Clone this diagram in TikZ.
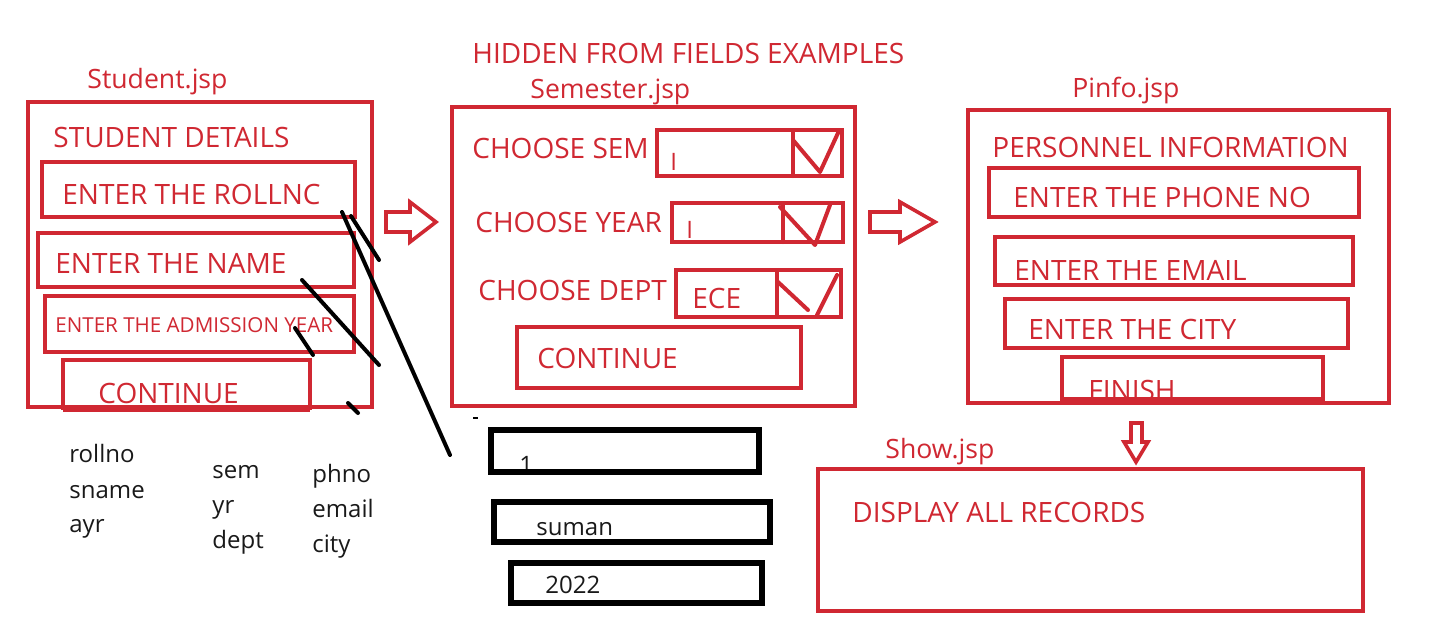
\documentclass[tikz,border=0pt]{standalone}
\usepackage{fontspec}
\setmainfont{Open Sans}
\definecolor{sk}{RGB}{208,40,50}
\definecolor{ink}{RGB}{25,25,25}
\newcommand\boxat[6][rb]{\node[#1, minimum width={(#5-#3)*0.5pt}, minimum height={(#6-#4)*0.5pt}, anchor=north west] (#2) at (#3,#4) {};}
\begin{document}
\begin{tikzpicture}[x=0.5pt,y=-0.5pt,
  rb/.style={draw=sk, line width=2.2pt, inner sep=0pt, outer sep=0pt},
  kb/.style={draw=black, line width=2.6pt, inner sep=0pt, outer sep=0pt},
  rt/.style={text=sk, font=\fontsize{14pt}{16pt}\selectfont, anchor=base west, inner sep=0pt},
  lt/.style={rt, font=\fontsize{13.3pt}{16pt}\selectfont},
  st/.style={rt, font=\fontsize{10.3pt}{12pt}\selectfont},
  kt/.style={text=ink, font=\fontsize{12pt}{14pt}\selectfont, anchor=base west, inner sep=0pt},
  stroke/.style={draw=black, line width=2pt, line cap=round},
  redline/.style={draw=sk, line width=2pt, line cap=round, line join=round},
  bar/.style={draw=sk, line width=3.5pt},
  blockarrow/.style={draw=sk, line width=1.8pt, line join=miter, fill=white}]
\useasboundingbox[fill=white] (0,0) rectangle (1443,633);

% ---------------- Student.jsp ----------------
\node[lt] (lstudent) at (87,88) {Student.jsp};
\boxat{student}{28}{102}{372}{407}
\node[rt] (tdetails) at (53,147) {STUDENT DETAILS};
\node[rt] (troll) at (62,204) {ENTER THE ROLLNC};
\boxat{roll}{42}{162}{355}{217}
\node[rt] (tname) at (55,273) {ENTER THE NAME};
\boxat{name}{38}{233}{354}{287}
\node[st] (tadm) at (55,332) {ENTER THE ADMISSION YEAR};
\boxat{adm}{45}{296}{354}{352}
\node[rt] (tcont1) at (98,403) {CONTINUE};
\boxat{cont1}{63}{360}{310}{408}
\draw[bar] (cont1.south west) -- (cont1.south east);

% ---------------- Semester.jsp ----------------
\node[rt] (thidden) at (472,63) {HIDDEN FROM FIELDS EXAMPLES};
\node[lt] (lsem) at (530,98) {Semester.jsp};
\boxat{semester}{452}{107}{855}{406}
\node[rt] (tchsem) at (472,158) {CHOOSE SEM};
\node[rt, font=\fontsize{12pt}{14pt}\selectfont] (vsem) at (670,170) {I};
\boxat{ddsem}{657}{130}{842}{176}
\draw[redline] (793,130) -- (793,176);
\draw[redline] (793,140) -- (820,172) -- (838,133);
\node[rt] (tchyear) at (475,232) {CHOOSE YEAR};
\node[rt, font=\fontsize{12pt}{14pt}\selectfont] (vyear) at (686,238) {I};
\boxat{ddyear}{672}{203}{843}{242}
\draw[redline] (783,203) -- (783,242);
\draw[redline] (780,207) -- (815,245) -- (830,205);
\node[rt] (tchdept) at (478,300) {CHOOSE DEPT};
\node[rt] (vdept) at (692,308) {ECE};
\boxat{dddept}{676}{270}{841}{317}
\draw[redline] (777,270) -- (777,317);
\draw[redline] (778,282) -- (808,310);
\draw[redline] (817,315) -- (837,275);
\node[rt] (tcont2) at (537,368) {CONTINUE};
\boxat{cont2}{517}{327}{801}{388}

% ---------------- Pinfo.jsp ----------------
\node[lt] (lpinfo) at (1072,97) {Pinfo.jsp};
\boxat{pinfo}{968}{110}{1389}{403}
\node[rt] (tpers) at (992,157) {PERSONNEL INFORMATION};
\node[rt] (tphone) at (1013,207) {ENTER THE PHONE NO};
\boxat{phone}{989}{168}{1359}{217}
\node[rt] (temail) at (1014,280) {ENTER THE EMAIL};
\boxat{email}{995}{237}{1353}{285}
\node[rt] (tcity) at (1028,339) {ENTER THE CITY};
\boxat{city}{1005}{299}{1348}{348}
\node[rt] (tfinish) at (1088,400) {FINISH};
\boxat{finish}{1062}{357}{1323}{400}
\draw[bar] (finish.south west) -- (finish.south east);

% ---------------- Show.jsp ----------------
\node[lt] (lshow) at (885,458) {Show.jsp};
\boxat{show}{818}{469}{1363}{611}
\node[rt] (tdisplay) at (852,522) {DISPLAY ALL RECORDS};

% ---------------- block arrows ----------------
\draw[blockarrow] (386,212) -- (410,212) -- (410,202) -- (436,222) -- (410,242) -- (410,232) -- (386,232) -- cycle;
\draw[blockarrow] (870,212) -- (900,212) -- (900,202) -- (935,222) -- (900,242) -- (900,232) -- (870,232) -- cycle;
\draw[blockarrow] (1131,423) -- (1142,423) -- (1142,442) -- (1148,442) -- (1136,462) -- (1124,442) -- (1131,442) -- cycle;

% ---------------- hidden field values ----------------
\node[kt] (v1) at (519,473) {1};
\boxat[kb]{hroll}{491}{430}{759}{472}
\node[kt] (v2) at (536,535) {suman};
\boxat[kb]{hname}{494}{502}{770}{542}
\node[kt] (v3) at (545,593) {2022};
\boxat[kb]{hyear}{511}{563}{762}{603}

% ---------------- black strokes ----------------
\coordinate (s1a) at (342,212); \coordinate (s1b) at (450,455);
\coordinate (s2a) at (351,216); \coordinate (s2b) at (379,260);
\coordinate (s3a) at (302,280); \coordinate (s3b) at (379,365);
\coordinate (s4a) at (295,328); \coordinate (s4b) at (313,355);
\coordinate (s5a) at (348,403); \coordinate (s5b) at (358,413);
\draw[stroke] (s1a) -- (s1b);
\draw[stroke] (s2a) -- (s2b);
\draw[stroke] (s3a) -- (s3b);
\draw[stroke] (s4a) -- (s4b);
\draw[stroke] (s5a) -- (s5b);
\coordinate (d1) at (473,418); \coordinate (d2) at (478,418);
\draw[draw=black, line width=0.6pt] (d1) -- (d2);

% ---------------- parameter names ----------------
\node[kt] (prollno) at (69,462) {rollno};
\node[kt] (psname) at (69,498) {sname};
\node[kt] (payr) at (69,532) {ayr};
\node[kt] (psem) at (212,478) {sem};
\node[kt] (pyr) at (212,513) {yr};
\node[kt] (pdept) at (212,548) {dept};
\node[kt] (pphno) at (312,482) {phno};
\node[kt] (pemail) at (312,517) {email};
\node[kt] (pcity) at (312,552) {city};
\end{tikzpicture}
\end{document}
